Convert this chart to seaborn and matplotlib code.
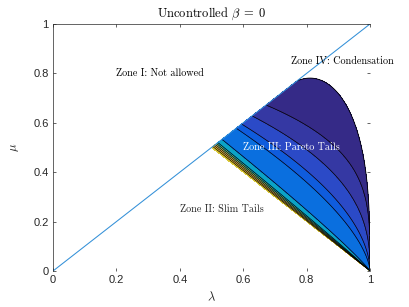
import numpy as np
import matplotlib
matplotlib.use("Agg")
import matplotlib.pyplot as plt
import seaborn as sns
import pandas as pd

# ---------------- data ----------------
# contour levels, expressed as the lambda where each level line meets the diagonal mu = lambda
level_lambda = [0.500, 0.504, 0.508, 0.512, 0.516, 0.520, 0.533, 0.578, 0.595, 0.628, 0.672, 1.000]
band_colors = ["#D8C83A", "#FAD32A", "#F1B94A", "#B7BD64", "#59BD8B",
               "#0BA3C6", "#0A6FDF", "#0F5CDD", "#2B4AC7", "#3538A3", "#352A87"]
# condensation frontier: peak (lambda, mu), half-width toward the diagonal,
# and the lambda where the frontier meets the diagonal
frontier_peak = (0.811, 0.781)
frontier_halfwidth_left = 0.197
frontier_meet_lambda = 0.769
bend_strength = 93.5

diag_x = [0.0, 1.0]
diag_y = [0.0, 1.0]

xticks = [0, 0.2, 0.4, 0.6, 0.8, 1]
xtick_labels = ["0", "0.2", "0.4", "0.6", "0.8", "1"]
yticks = [0, 0.2, 0.4, 0.6, 0.8, 1]
ytick_labels = ["0", "0.2", "0.4", "0.6", "0.8", "1"]

zone_labels = ["Zone I: Not allowed", "Zone II: Slim Tails",
               "Zone III: Pareto Tails", "Zone IV: Condensation"]
zone_x = [0.20, 0.40, 0.60, 0.75]
zone_y = [0.80, 0.25, 0.50, 0.85]
zone_colors = ["black", "#262626", "white", "black"]

# ---------------- style ----------------
sns.set_theme(style="white")
plt.rcParams["mathtext.fontset"] = "cm"
plt.rcParams["font.family"] = ["Liberation Sans", "DejaVu Sans"]
plt.rcParams["axes.unicode_minus"] = False

fig = plt.figure(figsize=(4.09, 3.07), dpi=100)
ax = fig.add_axes([53 / 409, 1 - 271 / 307, 317 / 409, 247 / 307])

# ---------------- field ----------------
lam = np.linspace(0.45, 1.0, 1000)
mu = np.linspace(0.0, 0.85, 1000)
L, M = np.meshgrid(lam, mu)
X = 1.0 - L
Y = M

def p_of(t):
    return 1.0 + bend_strength * (t - 0.5) ** 2

lo = np.maximum(Y, 0.5)
hi = np.ones_like(Y)
for _ in range(60):
    mid = 0.5 * (lo + hi)
    f = (1 - mid) * (Y / mid) ** p_of(mid) - X
    pos = f > 0
    lo = np.where(pos, mid, lo)
    hi = np.where(pos, hi, mid)
T = 0.5 * (lo + hi)

a = 1.0 - frontier_peak[0]
b = frontier_peak[1]
x_meet = 1.0 - frontier_meet_lambda
right = np.clip(1 - (1 - X / a) ** 2, 0, None)
left = np.clip(1 - ((X - a) / frontier_halfwidth_left) ** 2, 0, None)
yB = np.where(X <= a, b * right ** (1 / 3),
              np.where(X < x_meet, b * left ** (1 / 3), 10.0))
wedge = (M <= L + 1e-12) & (M >= 1 - L - 1e-12)
valid = wedge & (Y <= yB)
T = np.where(valid, T, np.nan)

ax.contourf(L, M, T, levels=level_lambda, colors=band_colors)
ax.contour(L, M, T, levels=level_lambda[1:-1], colors="black", linewidths=0.5)
Bnd = np.where(wedge & (X < x_meet), Y - yB, np.nan)
ax.contour(L, M, Bnd, levels=[0], colors="black", linewidths=0.6)

# diagonal line
sns.lineplot(x=diag_x, y=diag_y, ax=ax, color="#3390D8", linewidth=0.75)

# ---------------- text ----------------
for lab, zx, zy, zc in zip(zone_labels, zone_x, zone_y, zone_colors):
    ax.text(zx, zy, lab, fontsize=7.3, family="cmr10", color=zc,
            ha="left", va="center")

ax.set_title(r"Uncontrolled $\beta\;=\;0$", fontsize=9, family="cmr10",
             color="black", pad=5)
ax.set_xlabel(r"$\lambda$", fontsize=9, color="#262626", labelpad=4)
ax.set_ylabel(r"$\mu$", fontsize=9, color="#262626", labelpad=9)

ax.set_xlim(0, 1)
ax.set_ylim(0, 1)
ax.set_xticks(xticks)
ax.set_xticklabels(xtick_labels)
ax.set_yticks(yticks)
ax.set_yticklabels(ytick_labels)
ax.tick_params(direction="in", length=2.2, width=0.5, colors="#262626",
               labelsize=8, top=True, right=True, bottom=True, left=True,
               pad=3)
for s in ["left", "top"]:
    ax.spines[s].set_visible(True)
    ax.spines[s].set_color("#262626")
    ax.spines[s].set_linewidth(0.5)
for s in ["bottom", "right"]:
    ax.spines[s].set_visible(False)
ax.set_facecolor("white")
ax.grid(False)
legend = ax.get_legend()
if legend is not None:
    legend.remove()

fig.savefig("out.png", dpi=100, facecolor="white")
